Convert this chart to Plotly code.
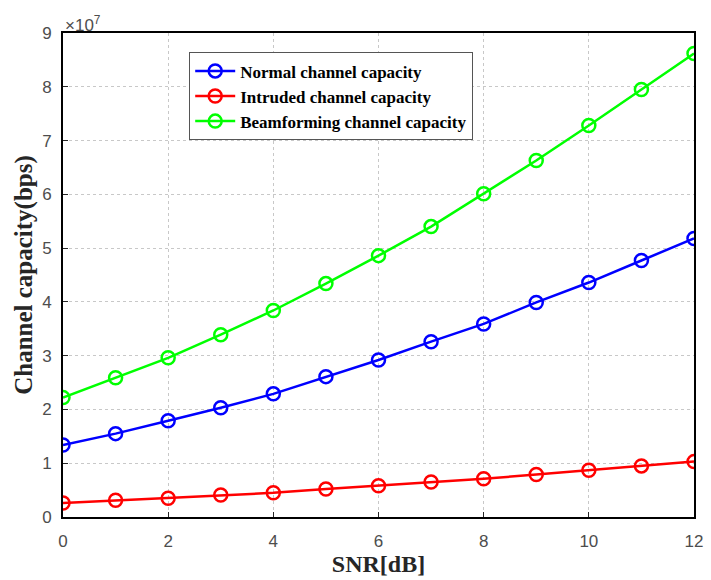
import plotly.graph_objects as go

# SNR sweep in dB
snr_db = [0, 1, 2, 3, 4, 5, 6, 7, 8, 9, 10, 11, 12]

# Channel capacity in units of 1e7 bps
normal_cap = [1.34, 1.55, 1.79, 2.03, 2.29, 2.61, 2.92, 3.26, 3.59, 3.99, 4.36, 4.77, 5.18]
intruded_cap = [0.26, 0.31, 0.35, 0.41, 0.45, 0.52, 0.58, 0.65, 0.71, 0.79, 0.87, 0.95, 1.03]
beamforming_cap = [2.22, 2.59, 2.96, 3.39, 3.84, 4.34, 4.86, 5.40, 6.01, 6.63, 7.28, 7.95, 8.62]

series = [
    ("Normal channel capacity", normal_cap, "#0000FF"),
    ("Intruded channel capacity", intruded_cap, "#FF0000"),
    ("Beamforming channel capacity", beamforming_cap, "#00FF00"),
]

fig = go.Figure()
for name, vals, color in series:
    fig.add_trace(go.Scatter(
        x=snr_db, y=vals, name=f"<b>{name}</b>", mode="lines+markers",
        line=dict(color=color, width=2.5),
        marker=dict(symbol="circle-open", size=13, color=color,
                    line=dict(width=2.5, color=color)),
    ))

tick_font = dict(family="Liberation Sans, Arial", size=17, color="#4d4d4d")
title_font = dict(family="Liberation Serif, Times New Roman", size=25, color="#262626")

axis_common = dict(
    showline=True, linecolor="black", linewidth=2, mirror=True,
    showgrid=True, gridcolor="#c8c8c8", griddash="dot", gridwidth=1,
    ticks="inside", ticklen=5, tickcolor="#262626",
    zeroline=False, tickfont=tick_font,
)

fig.update_layout(
    width=711, height=580,
    margin=dict(l=63, r=8, t=33, b=63),
    paper_bgcolor="white", plot_bgcolor="white",
    xaxis=dict(range=[0, 12], tickvals=[0, 2, 4, 6, 8, 10, 12],
               ticklabelstandoff=8,
               title=dict(text="<b>SNR[dB]</b>", font=dict(title_font, size=24), standoff=2),
               **axis_common),
    yaxis=dict(range=[0, 9], tickvals=list(range(10)),
               ticklabelstandoff=6,
               title=dict(text="<b>Channel capacity(bps)</b>", font=title_font, standoff=2),
               **axis_common),
    legend=dict(
        x=0.2, y=0.96, xanchor="left", yanchor="top",
        bgcolor="white", bordercolor="#555555", borderwidth=1,
        font=dict(family="Liberation Serif, Times New Roman", size=17, color="black"),
        tracegroupgap=0, itemwidth=40,
    ),
    showlegend=True,
)

fig.add_annotation(
    xref="paper", yref="paper", x=0.0, y=1.0, xanchor="left", yanchor="bottom",
    text="×10<sup>7</sup>", showarrow=False,
    font=dict(family="Liberation Sans, Arial", size=17, color="#4d4d4d"),
    yshift=-4,
)

fig.write_html("out.html")
